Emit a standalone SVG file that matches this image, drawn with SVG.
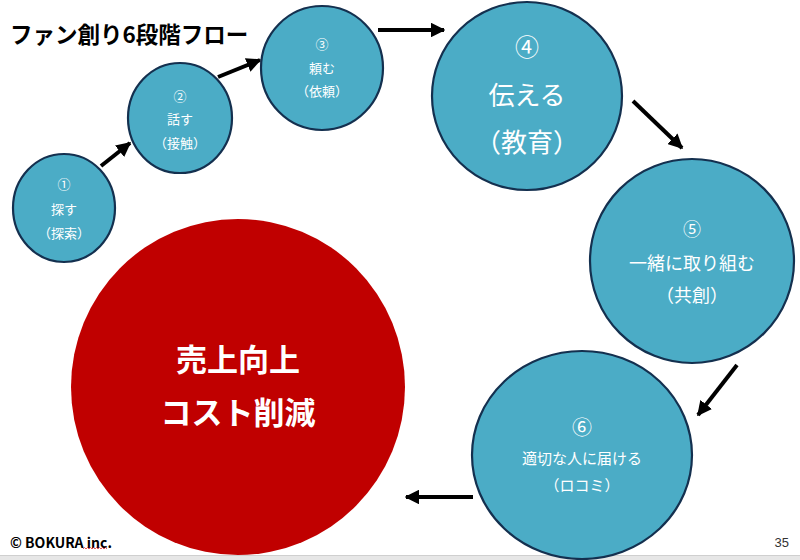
<svg xmlns="http://www.w3.org/2000/svg" width="800" height="560" viewBox="0 0 800 560">
<defs>
<style>
.node{fill:#4BACC6;stroke:#14304F;stroke-width:2.2}
.t{fill:#fff;font-family:"Noto Sans CJK JP","Noto Sans",sans-serif;text-anchor:middle;dominant-baseline:central}
.conn{stroke:#000;stroke-width:4;fill:none;marker-end:url(#ah)}
</style>
<marker id="ah" viewBox="0 0 10 10" refX="9" refY="5" markerWidth="3.7" markerHeight="3.7" orient="auto" markerUnits="strokeWidth">
<path d="M0,0 L10,5 L0,10 z" fill="#000"/>
</marker>
</defs>
<rect width="800" height="560" fill="#fff"/>
<rect x="0" y="555" width="800" height="5" fill="#e6e6e6"/>
<line x1="0" y1="555.5" x2="800" y2="555.5" stroke="#cfcfcf" stroke-width="1"/>
<text x="10" y="33" font-family="'Noto Sans CJK JP',sans-serif" font-weight="bold" font-size="22.5" fill="#000" dominant-baseline="central">ファン創り6段階フロー</text>

<g id="connectors">
<line class="conn" x1="101" y1="166" x2="130" y2="143"/>
<line class="conn" x1="218" y1="77" x2="260" y2="60"/>
<line class="conn" x1="378" y1="30" x2="444" y2="30"/>
<line class="conn" x1="633" y1="101" x2="682" y2="148"/>
<line class="conn" x1="737" y1="365" x2="698" y2="415"/>
<line class="conn" x1="473" y1="497" x2="406" y2="497"/>
</g>

<g id="goal">
<ellipse cx="238" cy="387" rx="167" ry="168" fill="#C00000"/>
<text class="t" x="238" y="357" font-size="31" font-weight="bold">売上向上</text>
<text class="t" x="238" y="410" font-size="31" font-weight="bold">コスト削減</text>
</g>

<g id="step1">
<ellipse class="node" cx="64" cy="208" rx="51" ry="54"/>
<text class="t" x="64" y="183" font-size="13">①</text>
<text class="t" x="64" y="208" font-size="13">探す</text>
<text class="t" x="64" y="232" font-size="13">（探索）</text>
</g>
<g id="step2">
<ellipse class="node" cx="180" cy="118" rx="52" ry="55"/>
<text class="t" x="180" y="95" font-size="13">②</text>
<text class="t" x="180" y="118" font-size="13">話す</text>
<text class="t" x="180" y="142" font-size="13">（接触）</text>
</g>
<g id="step3">
<ellipse class="node" cx="322" cy="68" rx="61" ry="62"/>
<text class="t" x="322" y="43" font-size="13">③</text>
<text class="t" x="322" y="67" font-size="13">頼む</text>
<text class="t" x="322" y="90" font-size="13">（依頼）</text>
</g>
<g id="step4">
<ellipse class="node" cx="527" cy="96" rx="95" ry="94"/>
<text class="t" x="527" y="45" font-size="24">④</text>
<text class="t" x="527" y="93" font-size="26">伝える</text>
<text class="t" x="527" y="140" font-size="26">（教育）</text>
</g>
<g id="step5">
<ellipse class="node" cx="692" cy="261" rx="102" ry="102"/>
<text class="t" x="692" y="228" font-size="18">⑤</text>
<text class="t" x="692" y="262" font-size="18">一緒に取り組む</text>
<text class="t" x="692" y="294" font-size="18">（共創）</text>
</g>
<g id="step6">
<ellipse class="node" cx="582" cy="455" rx="110" ry="104"/>
<text class="t" x="582" y="426" font-size="20">⑥</text>
<text class="t" x="582" y="457" font-size="15">適切な人に届ける</text>
<text class="t" x="582" y="484" font-size="15">（ロコミ）</text>
</g>

<text x="10" y="542" font-family="'Noto Sans CJK JP',sans-serif" font-weight="bold" font-size="14" fill="#000" dominant-baseline="central">© BOKURA inc.</text>
<path d="M83,549 l1.5,-1.5 l1.5,1.5 l1.5,-1.5 l1.5,1.5 l1.5,-1.5 l1.5,1.5 l1.5,-1.5 l1.5,1.5 l1.5,-1.5 l1.5,1.5 l1.5,-1.5 l1.5,1.5 l1.5,-1.5 l1.5,1.5 l1.5,-1.5 l1.5,1.5" fill="none" stroke="#e03030" stroke-width="0.8"/>
<text x="789" y="542" font-family="'Liberation Sans',sans-serif" font-size="13" fill="#333" text-anchor="end" dominant-baseline="central">35</text>
</svg>
